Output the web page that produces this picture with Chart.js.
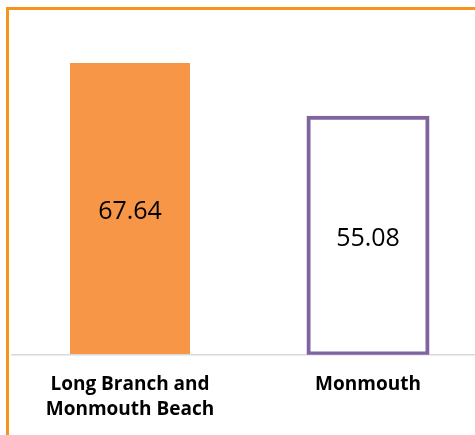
<!DOCTYPE html>
<html><head><meta charset="utf-8">
<script src="https://cdn.jsdelivr.net/npm/chart.js@4"></script>
<style>
html,body{margin:0;padding:0;background:#fff;overflow:hidden;}
#wrap{position:relative;width:475px;height:435px;overflow:hidden;background:#fff;}
#c{position:absolute;left:0;top:0;}
.bl{position:absolute;left:6px;top:7px;width:3px;height:428px;background:#F7941D;}
.bt{position:absolute;left:6px;top:7px;width:469px;height:3px;background:#F7941D;}
</style></head>
<body>
<div id="wrap"><canvas id="c" width="490" height="435"></canvas><div class="bl"></div><div class="bt"></div></div>
<script>
const categories = [['Long Branch and', 'Monmouth Beach'], 'Monmouth'];
const values = [67.64, 55.08];
const valueLabels = ['67.64', '55.08'];
const yMin = 0;
const yMax = 80;

const valueLabelPlugin = {
  id: 'valueLabels',
  afterDatasetsDraw(chart) {
    const meta = chart.getDatasetMeta(0);
    const ctx = chart.ctx;
    ctx.save();
    ctx.font = '25px "Open Sans"';
    ctx.fillStyle = '#000';
    ctx.textAlign = 'center';
    ctx.textBaseline = 'middle';
    meta.data.forEach((el, i) => {
      const y = (el.y + el.base) / 2 + 3.5;
      ctx.fillText(valueLabels[i], el.x, y);
    });
    ctx.restore();
  }
};

new Chart(document.getElementById('c'), {
  type: 'bar',
  data: {
    labels: categories,
    datasets: [{
      data: values,
      backgroundColor: ['#F79646', 'rgba(0,0,0,0)'],
      borderColor: ['#F79646', '#8064A2'],
      borderWidth: [0, 1],
      inflateAmount: [0, 1.5],
      borderSkipped: false,
      barPercentage: 120 / 238,
      categoryPercentage: 1
    }]
  },
  options: {
    responsive: false,
    animation: false,
    events: [],
    layout: { padding: { left: 11, right: 3, top: 9.7, bottom: 0 } },
    plugins: { legend: { display: false }, tooltip: { enabled: false } },
    scales: {
      x: {
        grid: { display: false, drawTicks: false },
        border: { display: false },
        ticks: {
          color: '#000',
          font: { family: 'Open Sans', weight: 'bold', size: 19, lineHeight: 25.3 / 19 },
          padding: 17, maxRotation: 0, minRotation: 0, autoSkip: false
        },
        afterFit(s) { s.height = 80.3; }
      },
      y: {
        min: yMin, max: yMax,
        ticks: { display: false },
        grid: {
          drawTicks: false,
          color: c => (c.tick && c.tick.value === 0) ? '#D9D9D9' : 'rgba(0,0,0,0)',
          lineWidth: 1.5
        },
        border: { display: false }
      }
    }
  },
  plugins: [valueLabelPlugin]
});
</script>
</body></html>
